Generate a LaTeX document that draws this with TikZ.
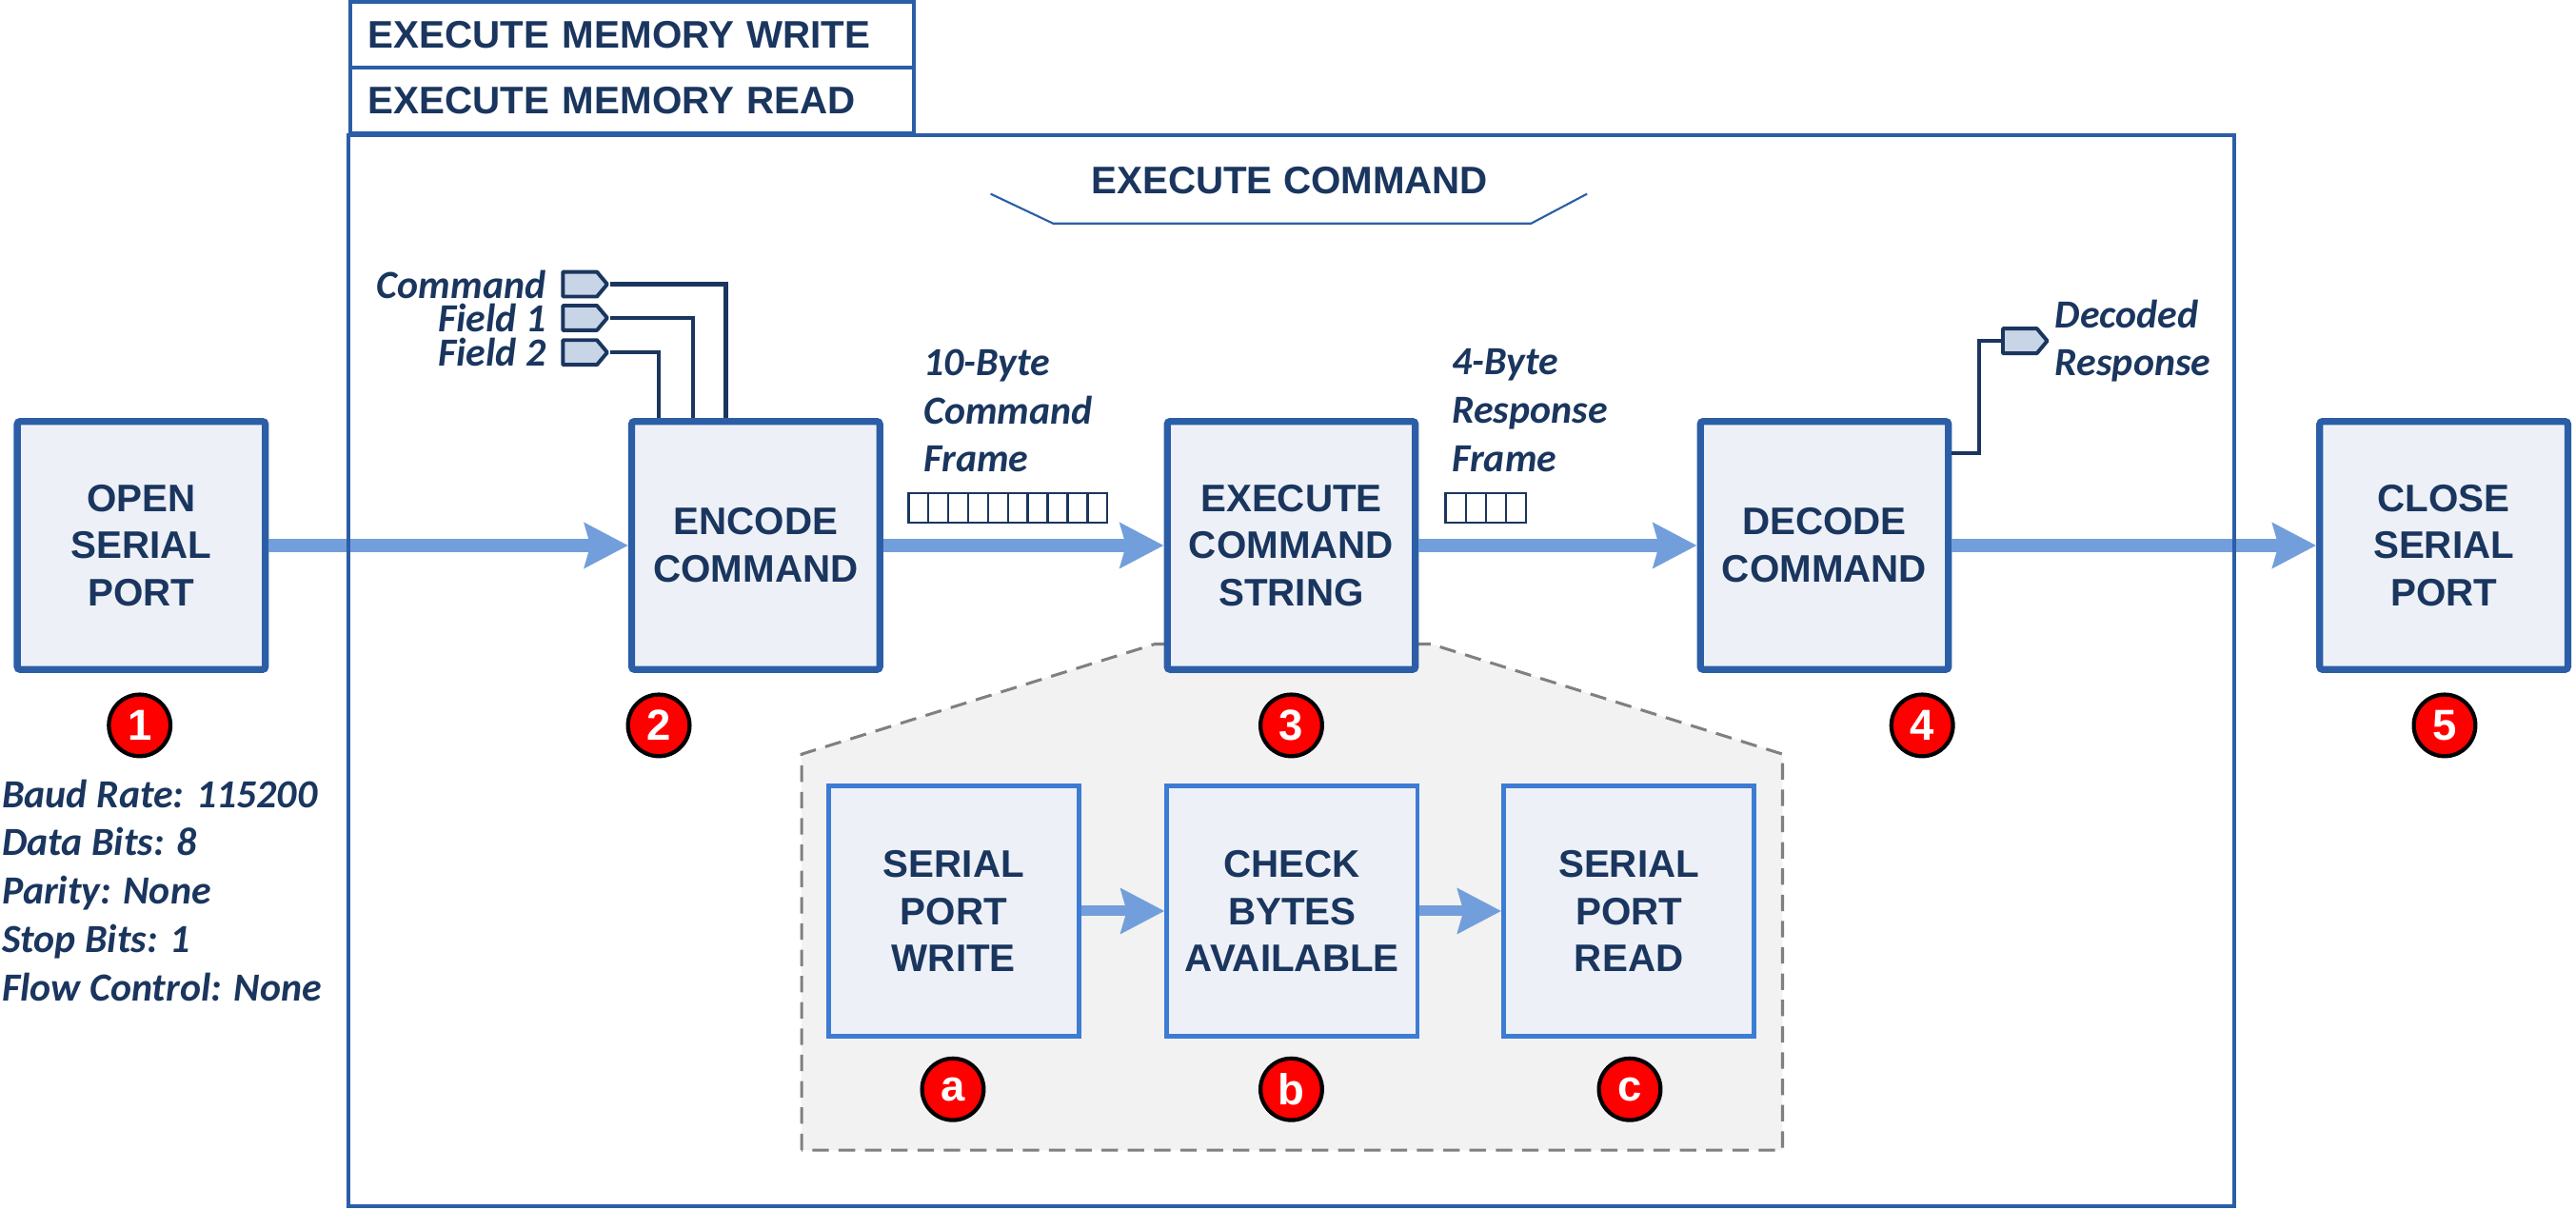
\documentclass[tikz,border=0pt]{standalone}
\usepackage{fontspec}
\setmainfont{Liberation Sans}
\newfontfamily\notefont{Carlito}
\usepackage{tikz}
\usetikzlibrary{arrows.meta}
\usetikzlibrary{positioning}
\usetikzlibrary{shapes.symbols}
\definecolor{boxblue}{HTML}{2B5EA6}
\definecolor{subblue}{HTML}{3D7CD3}
\definecolor{navy}{HTML}{1A365F}
\definecolor{flowblue}{HTML}{729FDB}
\definecolor{boxfill}{HTML}{EDF1F7}
\definecolor{portfill}{HTML}{C8D5E6}
\definecolor{panelfill}{HTML}{F2F2F2}
\definecolor{panelline}{HTML}{808080}
\definecolor{badgered}{HTML}{FF0000}
\tikzset{stage/.style = {shape=rectangle,draw=boxblue,fill=boxfill,line width=2.4pt,rounded corners=1pt,minimum size=3.02cm,inner sep=0pt,align=center,text=navy,font=\fontsize{13.3}{16.4}\selectfont\bfseries}}
\tikzset{substage/.style = {stage,draw=subblue,line width=1.6pt,rounded corners=0pt,minimum size=3.05cm}}
\tikzset{badge/.style = {shape=circle,draw=black,fill=badgered,line width=1.4pt,minimum size=0.75cm,inner sep=0pt,text=white,font=\fontsize{15}{15}\selectfont\bfseries}}
\tikzset{flow/.style = {draw=flowblue,line width=4.4pt,-{Stealth[length=0.53cm,width=0.54cm,inset=0.07cm]}}}
\tikzset{subflow/.style = {flow,line width=3.6pt}}
\tikzset{port/.style = {shape=signal,signal to=east,signal pointer angle=100,draw=navy,fill=portfill,line width=1.3pt,line join=round,minimum width=0.54cm,minimum height=0.3cm,inner sep=0pt}}
\tikzset{portline/.style = {draw=navy,line width=1.4pt}}
\tikzset{note/.style = {text=navy,inner sep=0pt,align=left,font=\notefont\fontsize{13.8}{16.8}\selectfont\bfseries\itshape}}
\tikzset{tab/.style = {draw=boxblue,line width=1.4pt,anchor=north west,minimum width=6.86cm,minimum height=0.8cm,text width=6.42cm,inner xsep=0.22cm,align=left,text=navy,font=\fontsize{13.3}{16}\selectfont\bfseries}}
\tikzset{cell/.style = {draw=navy,line width=0.8pt}}

\begin{document}
\begin{tikzpicture}
                    \fill[white] (0,0) rectangle (31.36,-14.72);
                    \useasboundingbox (0,0) rectangle (31.36,-14.72);

                    \draw[panelline,fill=panelfill,line width=1pt,dash pattern=on 0.2cm off 0.12cm] (9.76,-14.0) -- (9.76,-9.18) -- (14.06,-7.84) -- (17.42,-7.84) -- (21.7,-9.18) -- (21.7,-14.0) -- cycle;

                    \node[stage] (open) at (1.72,-6.64) {OPEN\\SERIAL\\PORT};
                    \node[stage] (enc) at (9.2,-6.64) {ENCODE\\COMMAND};
                    \node[stage] (exe) at (15.72,-6.64) {EXECUTE\\COMMAND\\STRING};
                    \node[stage] (dec) at (22.21,-6.64) {DECODE\\COMMAND};
                    \node[stage] (close) at (29.75,-6.64) {CLOSE\\SERIAL\\PORT};

                    \node[badge] (n1) at (1.70,-8.83) {1};
                    \node[badge] (n2) at (8.02,-8.83) {2};
                    \node[badge] (n3) at (15.72,-8.83) {3};
                    \node[badge] (n4) at (23.4,-8.83) {4};
                    \node[badge] (n5) at (29.76,-8.83) {5};

                    \node[substage] (spw) at (11.61,-11.09) {SERIAL\\PORT\\WRITE};
                    \node[substage] (chk) at (15.73,-11.09) {CHECK\\BYTES\\AVAILABLE};
                    \node[substage] (spr) at (19.83,-11.09) {SERIAL\\PORT\\READ};

                    \node[badge] (na) at (11.6,-13.26) {a};
                    \node[badge] (nb) at (15.72,-13.26) {b};
                    \node[badge] (nc) at (19.84,-13.26) {c};

                    \node[port] (pcmd) at (7.06,-3.46) {};
                    \node[port] (pf1) at (7.06,-3.87) {};
                    \node[port] (pf2) at (7.06,-4.29) {};
                    \node[note,left=0.18cm of pcmd] (lcmd) {Command};
                    \node[note,left=0.18cm of pf1] (lf1) {Field 1};
                    \node[note,left=0.18cm of pf2] (lf2) {Field 2};

                    \node[port] (pdec) at (24.59,-4.15) {};
                    \node[note,right=0.06cm of pdec] (ldec) {Decoded\\Response};

                    \node[note,anchor=west] (lcf) at (11.24,-5.0) {10-Byte\\Command\\Frame};
                    \node[note,anchor=west] (lrf) at (17.67,-5.0) {4-Byte\\Response\\Frame};
                    \node[note,anchor=west] (cfg) at (0.02,-10.84) {Baud Rate: 115200\\Data Bits: 8\\Parity: None\\Stop Bits: 1\\Flow Control: None};

                    \foreach \i in {0,...,9}
                        \draw[cell] ({11.06+0.242*\i},-6.0) rectangle ++(0.242,-0.36);
                    \foreach \i in {0,...,3}
                        \draw[cell] ({17.6+0.245*\i},-6.0) rectangle ++(0.245,-0.36);

                    \draw[portline] (pcmd.east) -| ([xshift=1.19cm]enc.north west);
                    \draw[portline] (pf1.east) -| ([xshift=0.79cm]enc.north west);
                    \draw[portline] (pf2.east) -| ([xshift=0.37cm]enc.north west);
                    \draw[portline] ([yshift=-0.43cm]dec.north east) -- ++(0.33,0) |- (pdec.west);

                    \draw[flow] (open) -- (enc);
                    \draw[flow] (enc) -- (exe);
                    \draw[flow] (exe) -- (dec);
                    \draw[flow] (dec) -- (close);
                    \draw[subflow] (spw) -- (chk);
                    \draw[subflow] (chk) -- (spr);

                    \node[tab] (tw) at (4.24,0) {EXECUTE MEMORY WRITE};
                    \node[tab] (tr) at (4.24,-0.8) {EXECUTE MEMORY READ};
                    \draw[boxblue,line width=1.4pt] (tr.south west) rectangle (27.2,-14.68);

                    \node[text=navy,font=\fontsize{13.3}{16}\selectfont\bfseries] (ttl) at (15.7,-2.2) {EXECUTE COMMAND};
                    \draw[boxblue,line width=0.7pt] (12.06,-2.36) -- (12.82,-2.72) -- (18.64,-2.72) -- (19.32,-2.36);
\end{tikzpicture}
\end{document}
